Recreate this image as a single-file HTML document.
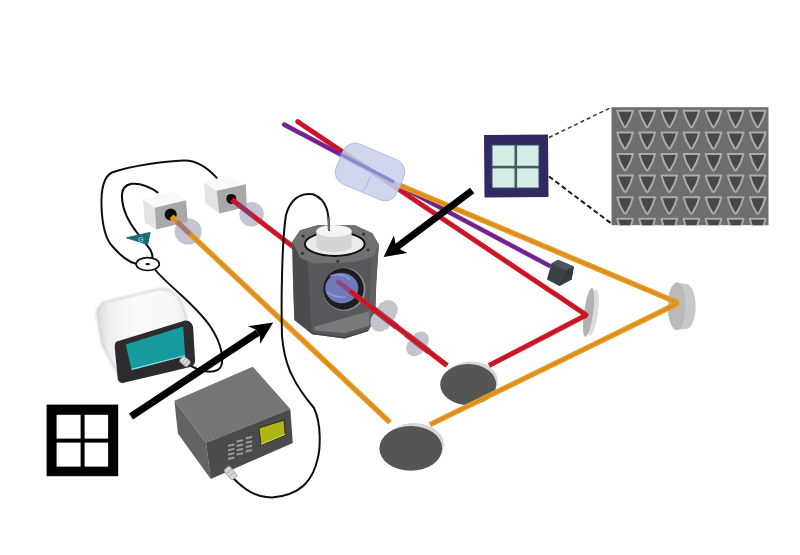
<!DOCTYPE html>
<html><head><meta charset="utf-8"><style>
html,body{margin:0;padding:0;background:#fff;width:800px;height:555px;overflow:hidden}
svg{display:block}
</style></head><body>
<svg width="800" height="555" viewBox="0 0 800 555">
<defs>
  <g id="tri">
    <path d="M-7.9,1.3 L7.9,1.3 Q6.0,9.5 0.9,17.3 Q0,18.2 -0.9,17.3 Q-6.0,9.5 -7.9,1.3 Z" fill="#464646" stroke="#ababab" stroke-width="2" stroke-linejoin="round"/>
  </g>
  <clipPath id="semclip"><rect x="611.5" y="107.2" width="157" height="118"/></clipPath>
  <linearGradient id="monbody" x1="0" y1="0" x2="1" y2="0">
    <stop offset="0" stop-color="#d8d8d8"/>
    <stop offset="0.12" stop-color="#eeeeee"/>
    <stop offset="0.4" stop-color="#fbfbfb"/>
    <stop offset="0.8" stop-color="#f6f6f6"/>
    <stop offset="1" stop-color="#e2e2e2"/>
  </linearGradient>
  <filter id="soft" x="-5%" y="-5%" width="110%" height="110%"><feGaussianBlur stdDeviation="0.65"/></filter>
  <filter id="soft2" x="-20%" y="-20%" width="140%" height="140%"><feGaussianBlur stdDeviation="1.3"/></filter>
</defs>
<rect width="800" height="555" fill="#ffffff"/>
<g filter="url(#soft)">

<!-- dashed lines -->
<line x1="549" y1="137.5" x2="611" y2="107.5" stroke="#333" stroke-width="1.5" stroke-dasharray="4,3"/>
<line x1="549" y1="176.5" x2="612" y2="224" stroke="#1a1a1a" stroke-width="2" stroke-dasharray="5,3"/>

<!-- SEM -->
<rect x="611.5" y="107.2" width="157" height="118" fill="#6e6e6e"/>
<g clip-path="url(#semclip)">
<use href="#tri" x="625.1" y="109.5"/>
<use href="#tri" x="647.2" y="109.5"/>
<use href="#tri" x="669.3" y="109.5"/>
<use href="#tri" x="691.4" y="109.5"/>
<use href="#tri" x="713.5" y="109.5"/>
<use href="#tri" x="735.6" y="109.5"/>
<use href="#tri" x="757.7" y="109.5"/>
<use href="#tri" x="625.1" y="131.1"/>
<use href="#tri" x="647.2" y="131.1"/>
<use href="#tri" x="669.3" y="131.1"/>
<use href="#tri" x="691.4" y="131.1"/>
<use href="#tri" x="713.5" y="131.1"/>
<use href="#tri" x="735.6" y="131.1"/>
<use href="#tri" x="757.7" y="131.1"/>
<use href="#tri" x="625.1" y="152.7"/>
<use href="#tri" x="647.2" y="152.7"/>
<use href="#tri" x="669.3" y="152.7"/>
<use href="#tri" x="691.4" y="152.7"/>
<use href="#tri" x="713.5" y="152.7"/>
<use href="#tri" x="735.6" y="152.7"/>
<use href="#tri" x="757.7" y="152.7"/>
<use href="#tri" x="625.1" y="174.3"/>
<use href="#tri" x="647.2" y="174.3"/>
<use href="#tri" x="669.3" y="174.3"/>
<use href="#tri" x="691.4" y="174.3"/>
<use href="#tri" x="713.5" y="174.3"/>
<use href="#tri" x="735.6" y="174.3"/>
<use href="#tri" x="757.7" y="174.3"/>
<use href="#tri" x="625.1" y="195.9"/>
<use href="#tri" x="647.2" y="195.9"/>
<use href="#tri" x="669.3" y="195.9"/>
<use href="#tri" x="691.4" y="195.9"/>
<use href="#tri" x="713.5" y="195.9"/>
<use href="#tri" x="735.6" y="195.9"/>
<use href="#tri" x="757.7" y="195.9"/>
<use href="#tri" x="625.1" y="217.5"/>
<use href="#tri" x="647.2" y="217.5"/>
<use href="#tri" x="669.3" y="217.5"/>
<use href="#tri" x="691.4" y="217.5"/>
<use href="#tri" x="713.5" y="217.5"/>
<use href="#tri" x="735.6" y="217.5"/>
<use href="#tri" x="757.7" y="217.5"/>
</g>

<!-- chip -->
<path d="M484,135 L548,134.5 L548.5,197 L484.5,197.5 Z" fill="#2d2a62"/>
<rect x="492" y="145" width="47" height="43" fill="#d5ebe4"/>
<rect x="514.5" y="145" width="2.6" height="43" fill="#3d5d60"/>
<rect x="492" y="165.8" width="47" height="2.6" fill="#3d5d60"/>
<path d="M492,145 L539,145 L539,188 L492,188 Z" fill="none" stroke="#3a4a70" stroke-width="1"/>

<!-- small dark cube -->
<path d="M551.4,263.6 L558,259.8 L573.9,266.5 L571.6,279.4 L559.3,286 L546.9,279.4 Z" fill="#3a4347"/>
<path d="M551.4,263.6 L558,259.8 L573.9,266.5 L566,270.5 Z" fill="#4c575b"/>
<path d="M566,270.5 L573.9,266.5 L571.6,279.4 L559.3,286 Z" fill="#333b3e"/>

<!-- thin mirror 1 -->
<ellipse cx="593" cy="312.5" rx="5" ry="23.5" fill="#dcdcdc" transform="rotate(8 593 312.5)"/>
<ellipse cx="588.6" cy="312.4" rx="4.6" ry="24.6" fill="#b2b2b2" transform="rotate(8 588.6 312.4)"/>
<!-- thin mirror 2 -->
<ellipse cx="686" cy="306.5" rx="9.5" ry="22.5" fill="#d4d4d4"/>
<ellipse cx="676.8" cy="306.3" rx="8.8" ry="23.7" fill="#bababa"/>
<path d="M676.8,282.6 L686,284 A9.5,22.5 0 0 1 686,329 L676.8,329.9 Z" fill="#c8c8c8"/>
<ellipse cx="676.8" cy="306.3" rx="8.8" ry="23.7" fill="#bababa"/>

<!-- mirror A -->
<ellipse cx="471" cy="381.5" rx="27" ry="20" fill="#d6d6d6"/>
<ellipse cx="468.2" cy="384.5" rx="28" ry="20.5" fill="#555557"/>
<!-- mirror B -->
<ellipse cx="414" cy="444.5" rx="30" ry="21.5" fill="#d6d6d6"/>
<ellipse cx="410.8" cy="448.4" rx="31.4" ry="22.4" fill="#555557"/>

<!-- upper beams -->
<line x1="297.8" y1="121.7" x2="586" y2="314.8" stroke="#d21a28" stroke-width="5.0" stroke-linecap="round"/><line x1="297.8" y1="121.7" x2="586" y2="314.8" stroke="#a81020" stroke-width="1.75" stroke-opacity="0.35" stroke-linecap="round"/>
<line x1="284.3" y1="124.6" x2="549" y2="265.5" stroke="#7a2796" stroke-width="4.6" stroke-linecap="round"/><line x1="284.3" y1="124.6" x2="549" y2="265.5" stroke="#5a1670" stroke-width="1.61" stroke-opacity="0.35" stroke-linecap="round"/>
<line x1="398" y1="184.6" x2="678.5" y2="303" stroke="#e69a24" stroke-width="5.4" stroke-linecap="butt"/><line x1="398" y1="184.6" x2="678.5" y2="303" stroke="#c27012" stroke-width="1.89" stroke-opacity="0.35" stroke-linecap="butt"/>
<line x1="678.5" y1="303" x2="430" y2="424.6" stroke="#e69a24" stroke-width="5.4" stroke-linecap="butt"/><line x1="678.5" y1="303" x2="430" y2="424.6" stroke="#c27012" stroke-width="1.89" stroke-opacity="0.35" stroke-linecap="butt"/>
<line x1="586" y1="315.3" x2="489" y2="365.5" stroke="#d21a28" stroke-width="5.0" stroke-linecap="butt"/><line x1="586" y1="315.3" x2="489" y2="365.5" stroke="#a81020" stroke-width="1.75" stroke-opacity="0.35" stroke-linecap="butt"/>

<!-- crystal -->
<g transform="translate(370,172) rotate(23)">
  <rect x="-33" y="-21.7" width="66" height="43.4" rx="13" fill="#c7cfea" fill-opacity="0.86" stroke="#b0b8d6" stroke-width="0.8"/>
  <path d="M2,4 Q3,14 1,21" stroke="#aab2d2" stroke-width="0.8" fill="none"/>
</g>
<path d="M339,153.5 L394,182" stroke="#6870c4" stroke-width="3.6" stroke-opacity="0.6"/>

<!-- lens discs near boxes -->
<ellipse cx="188.1" cy="231.4" rx="13.5" ry="13.2" fill="#c4c5d4"/>
<ellipse cx="251.6" cy="214.3" rx="12.2" ry="12.2" fill="#c4c5d4"/>
<!-- box 1 -->
<path d="M142.7,199 L174.3,192.1 L186.1,200.3 L154.8,207.8 Z" fill="#f9f9f9"/>
<path d="M142.9,199.3 L154.8,207.8 L156.3,229.6 L144.9,222.7 Z" fill="#e4e4e4"/>
<path d="M154.8,207.8 L186.1,200.3 L187.6,221.7 L156.3,229.6 Z" fill="#a8a8a8"/>
<circle cx="170.7" cy="214.4" r="6" fill="#0e0e0e"/>
<!-- box 2 -->
<path d="M203.8,182.7 L228.9,176.2 L245.9,184.3 L216.7,190.8 Z" fill="#f9f9f9"/>
<path d="M203.8,182.7 L216.7,190.8 L219.2,213.5 L205.4,203 Z" fill="#e4e4e4"/>
<path d="M216.7,190.8 L245.9,184.3 L246.7,207 L219.2,213.5 Z" fill="#a8a8a8"/>
<circle cx="231.3" cy="198.9" r="5" fill="#0e0e0e"/>

<!-- lower beams -->
<line x1="231.8" y1="199.5" x2="447" y2="365.5" stroke="#d21a28" stroke-width="5.0" stroke-linecap="butt"/><line x1="231.8" y1="199.5" x2="447" y2="365.5" stroke="#a81020" stroke-width="1.75" stroke-opacity="0.35" stroke-linecap="butt"/>
<line x1="171.5" y1="216.5" x2="390" y2="422.5" stroke="#e69a24" stroke-width="5.5" stroke-linecap="butt"/><line x1="171.5" y1="216.5" x2="390" y2="422.5" stroke="#c27012" stroke-width="1.92" stroke-opacity="0.35" stroke-linecap="butt"/>
<line x1="177" y1="221.7" x2="190" y2="234" stroke="#8a70a0" stroke-width="5" stroke-opacity="0.75"/>
<line x1="238" y1="204.3" x2="253" y2="215.8" stroke="#7a3a80" stroke-width="4.6" stroke-opacity="0.7"/>

<!-- cryostat -->
<g>
  <path d="M292.3,241.8 L300.2,230.3 L317.5,225.2 L355,225.2 L372.3,233.2 L378.8,244.7 L376.3,282 L375,320 L368,331 L344.6,338.5 L312.3,334.3 L294.4,320 L293,280 Z" fill="#59595b"/>
  <path d="M292.3,241.8 L300.2,257.7 L307.5,262 L312,334 L294.4,320 L293,280 Z" fill="#4b4b4d"/>
  <path d="M372,258 L378.8,244.7 L376.3,282 L375,320 L368,331 Z" fill="#606062"/>
  <path d="M292.3,241.8 L300.2,230.3 L317.5,225.2 L355,225.2 L372.3,233.2 L378.8,244.7 L373.7,256.2 L355,262 L314.6,263.4 L300.2,257.7 Z" fill="#707072"/>
  <path d="M314.4,326.8 L369.4,311 L369,326 L344.5,333 L315,330.5 Z" fill="#7a7a7c"/>
  <path d="M312,333.5 L344.6,337.8 L368,330.5" stroke="#454547" stroke-width="1.5" fill="none"/>
  <ellipse cx="344.2" cy="289.2" rx="21.3" ry="21.6" fill="#8c8c8e"/>
  <ellipse cx="343.4" cy="288.9" rx="20.3" ry="20.8" fill="#1e1e20"/>
  <ellipse cx="341.8" cy="288.1" rx="16.5" ry="15.1" fill="#7079bb"/>
  <path d="M330,276 C336,273 345,274 350,280 M327,292 C333,296 340,298 346,297" stroke="#9ea6dc" stroke-width="1.6" stroke-opacity="0.7" fill="none"/>
  <ellipse cx="334.8" cy="244" rx="29.9" ry="11.9" fill="#ebebeb" stroke="#111" stroke-width="2"/>
  <path d="M316.3,231 L316.3,246 A17.7,6 0 0 0 351.7,246 L351.7,231 Z" fill="#d4d4d4"/>
  <ellipse cx="334" cy="231" rx="17.7" ry="6.1" fill="#f4f4f4"/>
  <circle cx="303" cy="236" r="1.5" fill="#333"/>
  <circle cx="363.6" cy="233.9" r="1.5" fill="#333"/>
  <circle cx="368" cy="249.7" r="1.5" fill="#333"/>
  <circle cx="302.3" cy="253.3" r="1.5" fill="#333"/>
  <circle cx="337.7" cy="261.3" r="1.5" fill="#333"/>
</g>
<!-- lens discs near cryostat -->
<g fill="#c2c5cd">
  <circle cx="388.3" cy="309.5" r="9.6"/>
  <circle cx="379.5" cy="322.5" r="9.2"/>
  <path d="M381,302 L396,316 L387,330 L371,318 Z"/>
  <circle cx="421" cy="339.5" r="8"/>
  <circle cx="414" cy="348.3" r="8"/>
  <path d="M415,334 L428,345 L420,355 L407,344 Z"/>
</g>
<!-- red beam through cryostat window -->
<line x1="373" y1="308.7" x2="397" y2="327.1" stroke="#5a2a70" stroke-width="6.6" stroke-opacity="0.6"/>
<line x1="406" y1="334" x2="429" y2="351.7" stroke="#5a2a70" stroke-width="6.6" stroke-opacity="0.6"/>
<line x1="336.5" y1="280.6" x2="351" y2="291.7" stroke="#b02050" stroke-width="4.6" stroke-opacity="0.55"/>
<line x1="350" y1="290.9" x2="447" y2="365.5" stroke="#d21a28" stroke-width="5.0" stroke-linecap="butt"/><line x1="350" y1="290.9" x2="447" y2="365.5" stroke="#a81020" stroke-width="1.75" stroke-opacity="0.35" stroke-linecap="butt"/>

<!-- wires -->
<g fill="none" stroke="#111" stroke-width="2" stroke-linecap="round">
  <path d="M216.7,177.8 C205,165 195,160 183.6,160.5 C165,161 130,166 112,172.5 C103,177 101,190 101.5,206 C102,222 104,238 113,247 C120,255 128,262 136,263.8"/>
  <path d="M157.6,192.4 C150,187 140,183 131.6,183.8 C124,185 121.5,190 122,198 C122.5,210 130,224 138,234 C142,240 148,246 150.5,250 C152,253 152.5,255 152.5,257.5"/>
  <path d="M155,269.5 C160,276 170,285 180,294 C192,305 203,316 210,326 C218,338 223,352 222,363 C221,372 210,374 197,369 C192,367 188,364 185,361"/>
  <path d="M329,230 C329,215 328,200 313,194.3 C300,192 290,200 286,215 C282,240 281,300 282,336 C284,360 290,380 314,408 C322,425 320,450 317.7,458.6 C314,475 305,495 272,497.5 C255,497 245,490 233,478"/>
</g>
<path d="M329,230 L328.6,217" stroke="#6e6e38" stroke-width="2.2"/>

<!-- teal triangle -->
<path d="M126.4,237.8 L150.1,232.4 L147.7,244.5 Z" fill="#1d6c74" stroke="#1d6c74" stroke-width="1" stroke-linejoin="round"/>
<text x="138" y="241.5" font-family="Liberation Sans, sans-serif" font-size="7.5" fill="#6cd0e0" font-weight="bold">G</text>
<!-- ellipse -->
<ellipse cx="147.7" cy="264.1" rx="11.6" ry="6.4" fill="#fff" stroke="#111" stroke-width="1.7"/>
<ellipse cx="147.7" cy="264.1" rx="2.3" ry="1.2" fill="#111"/>

<!-- monitor -->
<path d="M122.7,383 L111.8,363.2 L101.9,343.4 L96.9,314.7 C96.5,308 101,302 109.8,300.8 L155.4,289.9 C162,288 170,289 175,294 L181.2,301.8 L187.1,318.7 L193.1,327.6 L195.1,361.3 L189.1,367.2 Z" fill="url(#monbody)"/>
<path d="M122.7,383 L111.8,363.2 L101.9,343.4 L96.9,314.7 C96.5,308 101,302 109.8,300.8 L155.4,289.9 C162,288 170,289 175,294 L181.2,301.8 L187.1,318.7" fill="none" stroke="#cdcdcd" stroke-width="1.6" filter="url(#soft2)"/>
<path d="M116.8,341.4 L185.1,320.6 C189,320 192.5,323 193.1,327.6 L195.1,361.3 C195,364 192,367 189.1,367.2 L122.7,383.1 C119.5,383 117.7,380.5 117.7,378.1 L114.8,348.4 C114.5,345 115,342.5 116.8,341.4 Z" fill="#2d2b2e"/>
<path d="M125.7,344.4 L183.2,326.6 L185.1,356.3 L131.6,370.2 Z" fill="#179a9e"/>
<path d="M131.6,369.4 L185.1,355.5" stroke="#8ee0e0" stroke-width="1.1"/>
<g transform="translate(185,361.5) rotate(40)">
  <rect x="-5" y="-3.6" width="10" height="7.2" rx="2" fill="#d8d8d8" stroke="#8c8c8c" stroke-width="0.7"/>
  <path d="M-1.5,-3.6 L-1.5,3.6 M1.8,-3.6 L1.8,3.6" stroke="#a0a0a0" stroke-width="0.7"/>
</g>

<!-- function generator -->
<path d="M174.4,400.7 L252.8,366.7 L290.3,408.9 L206,442.8 Z" fill="#747476"/>
<path d="M174.4,400.7 L206,442.8 L210.7,479 L177.9,433.4 Z" fill="#636365"/>
<path d="M206,442.8 L290.3,408.9 L292.8,443 L210.7,479 Z" fill="#4c4c4e"/>
<path d="M258.8,428 L284.2,419.9 L285.3,435 L261,445.3 Z" fill="#b0b418" stroke="#34341c" stroke-width="1.2"/>
<path d="M261,444.5 L285.3,434.3" stroke="#d8e040" stroke-width="1"/>
<g fill="#9c9c9e" stroke="#2e2e30" stroke-width="0.5">
<path d="M227.6,444.5 L234.8,443.0 L234.8,445.8 L227.6,447.3 Z"/>
<path d="M227.6,448.9 L234.8,447.4 L234.8,450.2 L227.6,451.7 Z"/>
<path d="M227.6,453.2 L234.8,451.7 L234.8,454.5 L227.6,456.0 Z"/>
<path d="M227.6,457.6 L234.8,456.1 L234.8,458.9 L227.6,460.4 Z"/>
<path d="M236.2,440.2 L243.4,438.7 L243.4,441.5 L236.2,443.0 Z"/>
<path d="M236.2,444.6 L243.4,443.1 L243.4,445.9 L236.2,447.4 Z"/>
<path d="M236.2,448.9 L243.4,447.4 L243.4,450.2 L236.2,451.7 Z"/>
<path d="M236.2,453.2 L243.4,451.8 L243.4,454.6 L236.2,456.1 Z"/>
<path d="M245.4,437.0 L252.6,435.5 L252.6,438.3 L245.4,439.8 Z"/>
<path d="M245.4,441.4 L252.6,439.9 L252.6,442.7 L245.4,444.2 Z"/>
<path d="M245.4,445.7 L252.6,444.2 L252.6,447.0 L245.4,448.5 Z"/>
<path d="M245.4,450.1 L252.6,448.6 L252.6,451.4 L245.4,452.9 Z"/>
</g>
<g transform="translate(230.5,473) rotate(50)">
  <rect x="-6.5" y="-3.8" width="13" height="7.6" rx="2" fill="#d6d6d6" stroke="#8c8c8c" stroke-width="0.7"/>
  <path d="M-2,-3.8 L-2,3.8 M2,-3.8 L2,3.8" stroke="#9a9a9a" stroke-width="0.7"/>
</g>

<!-- arrows -->
<path d="M131,416.4 L257.7,332.8" stroke="#000" stroke-width="7.2"/>
<path d="M273.2,322.6 L248,326.2 L255.7,329.4 L259.7,336.1 L260.2,343.8 Z" fill="#000"/>
<path d="M472.2,190.5 L397.5,246.5" stroke="#000" stroke-width="7"/>
<path d="M383.6,257 L393.9,235.4 L395.5,243.5 L400.5,249.5 L407.4,252.9 Z" fill="#000"/>

<!-- square icon -->
<rect x="46.6" y="404.6" width="71.6" height="71.6" fill="#000"/>
<rect x="56.6" y="414.8" width="24" height="23.8" fill="#fff"/>
<rect x="84.6" y="414.8" width="23.5" height="23.8" fill="#fff"/>
<rect x="56.6" y="442.6" width="24" height="24" fill="#fff"/>
<rect x="84.6" y="442.6" width="23.5" height="24" fill="#fff"/>
</g>
</svg>
</body></html>
